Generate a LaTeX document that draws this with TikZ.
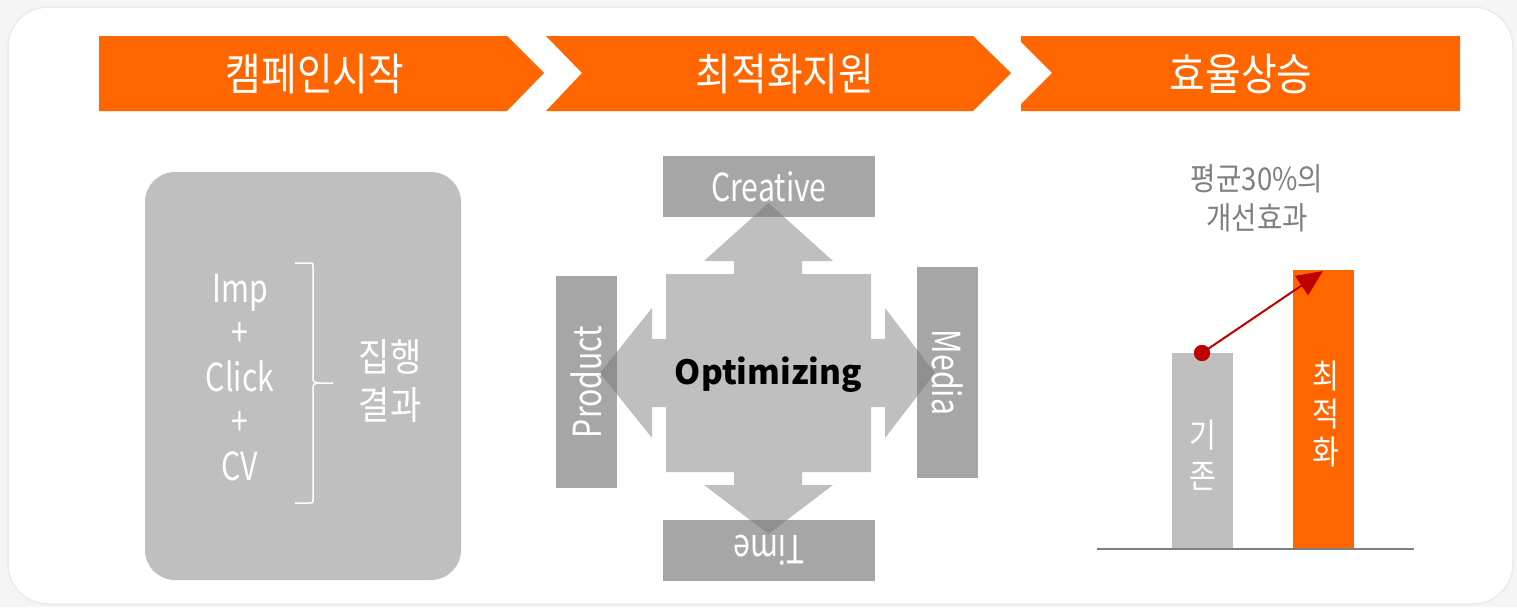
\documentclass[tikz,border=0pt]{standalone}
\usepackage{fontspec}
\usetikzlibrary{arrows.meta, positioning}

\newfontfamily\thinfont[FakeStretch=0.88]{Noto Sans CJK KR}
\newfontfamily\narrowfont[FakeStretch=0.78]{Noto Sans CJK KR}
\newfontfamily\headfont{Noto Sans CJK KR}
\newdimen\px \px=0.75pt

\definecolor{bgout}{HTML}{F5F5F5}
\definecolor{bgline}{HTML}{EBEBEB}
\definecolor{bannerorange}{HTML}{FF6600}
\definecolor{panelgray}{HTML}{BFBFBF}
\definecolor{boxgray}{HTML}{A6A6A6}
\definecolor{arrowgray}{HTML}{747474}
\definecolor{titlegray}{HTML}{7F7F7F}
\definecolor{markred}{HTML}{C00000}

\begin{document}
\begin{tikzpicture}[
    x=0.75pt, y=-0.75pt,
    node distance=5pt,
    banner/.style={fill=bannerorange},
    bannertext/.style={text=white, font=\thinfont\fontsize{33}{38}\selectfont},
    panel/.style={fill=panelgray, rounded corners=30\px, inner sep=0pt},
    stacktext/.style={text=white, inner sep=0pt, text height=21pt, text depth=7pt,
        font=\narrowfont\fontsize{29}{34}\selectfont},
    axisbox/.style={fill=boxgray, inner sep=0pt},
    axistext/.style={text=white, font=\narrowfont\fontsize{29}{34}\selectfont},
    bar/.style={inner sep=0pt, minimum width=61\px, anchor=south},
    bartext/.style={text=white, align=center, font=\thinfont\fontsize{25}{30.75}\selectfont},
    dot/.style={circle, fill=markred, inner sep=0pt, minimum size=16\px},
    arrow/.style={-{Triangle[length=19.5pt, width=17.25pt]}, markred, line width=1.5pt}
    ]

    \useasboundingbox (0,0) rectangle (1517,607);
    \fill[bgout] (0,0) rectangle (1517,607);
    \filldraw[fill=white, draw=bgline, line width=1.5\px, rounded corners=40\px] (8,7) rectangle (1513,604);

    % step banners
    \fill[banner] (99,36) -- (507,36) -- (544,73) -- (507,111) -- (99,111) -- cycle;
    \fill[banner] (546,36) -- (973,36) -- (1011,73) -- (973,111) -- (546,111) -- (582,73) -- cycle;
    \fill[banner] (1021,36) -- (1460,36) -- (1460,111) -- (1021,111) -- (1021,104) -- (1052,73) -- (1021,42) -- cycle;
    \node[bannertext] (start) at (315,74) {캠페인시작};
    \node[bannertext] (support) at (785,74) {최적화지원};
    \node[bannertext] (gain) at (1241,74) {효율상승};

    % campaign result
    \node[panel, minimum width=316\px, minimum height=408\px] (result) at (303,376) {};
    \node[stacktext, anchor=base] (imp) at (240,302) {Imp};
    \node[stacktext, below=of imp] (plus1) {+};
    \node[stacktext, below=of plus1] (click) {Click};
    \node[stacktext, below=of click] (plus2) {+};
    \node[stacktext, below=of plus2] (cv) {CV};
    \draw[white, line width=1.5\px] (295,263) -- (309,263) .. controls (313,263) .. (313,267)
        -- (313,377) .. controls (313,382) .. (319,383) -- (333,383)
        (319,383) .. controls (313,384) .. (313,389) -- (313,499)
        .. controls (313,503) .. (309,503) -- (295,503);
    \node[text=white, align=center, font=\thinfont\fontsize{29}{36}\selectfont] (sum) at (390,381) {집행\\결과};

    % optimizing cross
    \node[axisbox, minimum width=212\px, minimum height=61\px] (creative) at (769,186.5) {};
    \node[axisbox, minimum width=61\px, minimum height=212\px] (product) at (586.5,382) {};
    \node[axisbox, minimum width=61\px, minimum height=211\px] (media) at (947.5,372.5) {};
    \node[axisbox, minimum width=212\px, minimum height=61\px] (time) at (769,550.5) {};
    \fill[arrowgray, fill opacity=0.46] (666,274) -- (734,274) -- (734,261) -- (704,261) -- (768.5,203)
        -- (833,261) -- (802,261) -- (802,274) -- (871,274) -- (871,339) -- (885,339) -- (885,308)
        -- (935,373) -- (885,438) -- (885,407) -- (871,407) -- (871,472) -- (802,472) -- (802,485)
        -- (833,485) -- (768.5,534) -- (704,485) -- (734,485) -- (734,472) -- (666,472) -- (666,407)
        -- (652,407) -- (652,438) -- (600,373) -- (652,308) -- (652,339) -- (666,339) -- cycle;
    \node[axistext] at (creative) {Creative};
    \node[axistext, rotate=90] at (product) {Product};
    \node[axistext, rotate=-90] at (media) {Media};
    \node[axistext, rotate=180] at (time) {Time};
    \node[font=\headfont\bfseries\fontsize{25}{30}\selectfont] (opt) at (768.5,375) {Optimizing};

    % improvement chart
    \node[text=titlegray, align=center, font=\thinfont\fontsize{23.5}{29}\selectfont] (title) at (1257,198) {평균30\%의\\개선효과};
    \node[bar, fill=panelgray, minimum height=195\px] (before) at (1202.5,548) {};
    \node[bar, fill=bannerorange, minimum height=278\px] (after) at (1323.5,548) {};
    \coordinate (axisL) at (1097,549);
    \coordinate (axisR) at (1414,549);
    \draw[titlegray, line width=2\px] (axisL) -- (axisR);
    \node[bartext] at (1203,455) {기\\존};
    \node[bartext, font=\thinfont\fontsize{25}{28.5}\selectfont] at (1326,414) {최\\적\\화};
    \node[dot] (low) at (1202,353) {};
    \coordinate (high) at (1323,271);
    \draw[arrow] (low.center) -- (high);
    \node[dot] at (low) {};

\end{tikzpicture}
\end{document}
